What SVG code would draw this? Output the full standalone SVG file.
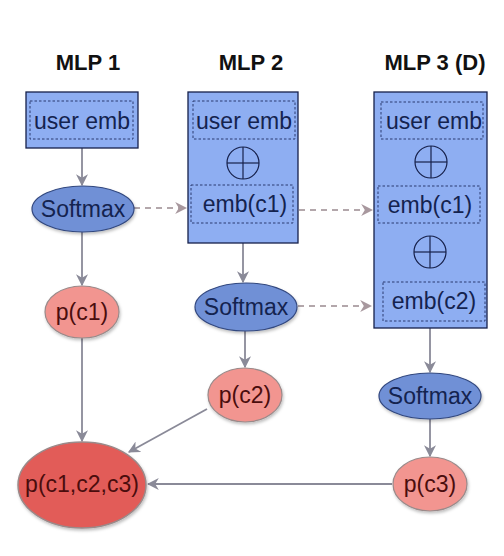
<svg xmlns="http://www.w3.org/2000/svg" width="504" height="556" viewBox="0 0 504 556">
<defs>
<style>
.title{font-family:"Liberation Sans",Arial,sans-serif;font-weight:bold;font-size:22px;fill:#111;text-anchor:middle}
.lbl{font-family:"Liberation Sans",Arial,sans-serif;font-size:23px;text-anchor:middle;dominant-baseline:central}
.blue{fill:#14234f}
.red{fill:#4a0d0d}
.box{fill:#8eaef2;stroke:#16204a;stroke-width:1.3}
.inner{fill:none;stroke:#2a3a70;stroke-width:1;stroke-dasharray:2.5,2}
.sm{fill:#6f90d6;stroke:#33487f;stroke-width:1.2}
.p{fill:#f29590;stroke:#9a8a8a;stroke-width:1.2}
.big{fill:#e25b58;stroke:#9a8a8a;stroke-width:1.5}
.plus{fill:none;stroke:#16204a;stroke-width:1.2}
.con{fill:none;stroke:#8a8a98;stroke-width:1.8}
.dash{fill:none;stroke:#9a8a90;stroke-width:1.6;stroke-dasharray:6,5}
</style>
<marker id="ahd" viewBox="0 0 10 10" refX="9" refY="5" markerWidth="12" markerHeight="12" orient="auto" markerUnits="userSpaceOnUse">
<path d="M0,0 L10,5 L0,10 L3,5 z" fill="#a8989e"/>
</marker>
<marker id="ah2" viewBox="0 0 10 10" refX="9" refY="5" markerWidth="12" markerHeight="12" orient="auto" markerUnits="userSpaceOnUse">
<path d="M0,0 L10,5 L0,10 L3,5 z" fill="#8a8a98"/>
</marker>
<filter id="sh" x="-20%" y="-20%" width="140%" height="150%">
<feDropShadow dx="1" dy="2" stdDeviation="1.5" flood-color="#000" flood-opacity="0.25"/>
</filter>
</defs>
<rect width="504" height="556" fill="#ffffff"/>

<g id="titles">
<text class="title" x="88" y="70">MLP 1</text>
<text class="title" x="251" y="70">MLP 2</text>
<text class="title" x="435" y="70">MLP 3 (D)</text>
</g>

<g id="connectors">
<line class="con" x1="82" y1="148" x2="82" y2="185" marker-end="url(#ah2)"/>
<line class="con" x1="82" y1="232" x2="82" y2="285" marker-end="url(#ah2)"/>
<line class="con" x1="82" y1="338" x2="82" y2="441" marker-end="url(#ah2)"/>
<line class="con" x1="243" y1="243" x2="243" y2="282" marker-end="url(#ah2)"/>
<line class="con" x1="245" y1="331" x2="245" y2="367" marker-end="url(#ah2)"/>
<line class="con" x1="430" y1="328" x2="430" y2="372" marker-end="url(#ah2)"/>
<line class="con" x1="430" y1="418" x2="430" y2="456" marker-end="url(#ah2)"/>
<line class="con" x1="207" y1="409" x2="129" y2="452" marker-end="url(#ah2)"/>
<line class="con" x1="392" y1="484" x2="148" y2="484" marker-end="url(#ah2)"/>
<line class="dash" x1="134" y1="208" x2="186" y2="208" marker-end="url(#ahd)"/>
<line class="dash" x1="299" y1="210" x2="372" y2="210" marker-end="url(#ahd)"/>
<line class="dash" x1="298" y1="306" x2="371" y2="306" marker-end="url(#ahd)"/>
</g>

<g id="mlp1">
<rect class="box" x="26" y="92" width="112" height="56"/>
<rect class="inner" x="30" y="101" width="103" height="38"/>
<text class="lbl blue" x="82" y="121">user emb</text>
</g>

<g id="mlp2">
<rect class="box" x="188" y="92" width="110" height="151"/>
<rect class="inner" x="193" y="101" width="102" height="38"/>
<text class="lbl blue" x="244" y="121">user emb</text>
<g class="plus"><circle cx="243" cy="163" r="16"/><line x1="227" y1="163" x2="259" y2="163"/><line x1="243" y1="147" x2="243" y2="179"/></g>
<rect class="inner" x="191" y="185" width="102" height="38"/>
<text class="lbl blue" x="245" y="204">emb(c1)</text>
</g>

<g id="mlp3">
<rect class="box" x="374" y="92" width="113" height="236"/>
<rect class="inner" x="381" y="102" width="102" height="37"/>
<text class="lbl blue" x="434" y="121">user emb</text>
<g class="plus"><circle cx="431" cy="162" r="16"/><line x1="415" y1="162" x2="447" y2="162"/><line x1="431" y1="146" x2="431" y2="178"/></g>
<rect class="inner" x="378" y="186" width="102" height="37"/>
<text class="lbl blue" x="430" y="205">emb(c1)</text>
<g class="plus"><circle cx="430" cy="252" r="16"/><line x1="414" y1="252" x2="446" y2="252"/><line x1="430" y1="236" x2="430" y2="268"/></g>
<rect class="inner" x="383" y="282" width="102" height="39"/>
<text class="lbl blue" x="434" y="301">emb(c2)</text>
</g>

<g id="softmax1">
<ellipse class="sm" cx="83" cy="209" rx="51" ry="23" filter="url(#sh)"/>
<text class="lbl blue" x="83" y="209">Softmax</text>
</g>
<g id="softmax2">
<ellipse class="sm" cx="246" cy="307" rx="51" ry="24" filter="url(#sh)"/>
<text class="lbl blue" x="246" y="307">Softmax</text>
</g>
<g id="softmax3">
<ellipse class="sm" cx="430" cy="396" rx="51" ry="23" filter="url(#sh)"/>
<text class="lbl blue" x="430" y="396">Softmax</text>
</g>

<g id="pc1">
<ellipse class="p" cx="82" cy="312" rx="37" ry="26" filter="url(#sh)"/>
<text class="lbl red" x="82" y="312">p(c1)</text>
</g>
<g id="pc2">
<ellipse class="p" cx="245" cy="395" rx="37" ry="27" filter="url(#sh)"/>
<text class="lbl red" x="245" y="395">p(c2)</text>
</g>
<g id="pc3">
<ellipse class="p" cx="430" cy="484" rx="37" ry="27" filter="url(#sh)"/>
<text class="lbl red" x="430" y="484">p(c3)</text>
</g>
<g id="pjoint">
<ellipse class="big" cx="82" cy="485" rx="64" ry="43" filter="url(#sh)"/>
<text class="lbl red" x="82" y="484">p(c1,c2,c3)</text>
</g>
</svg>
